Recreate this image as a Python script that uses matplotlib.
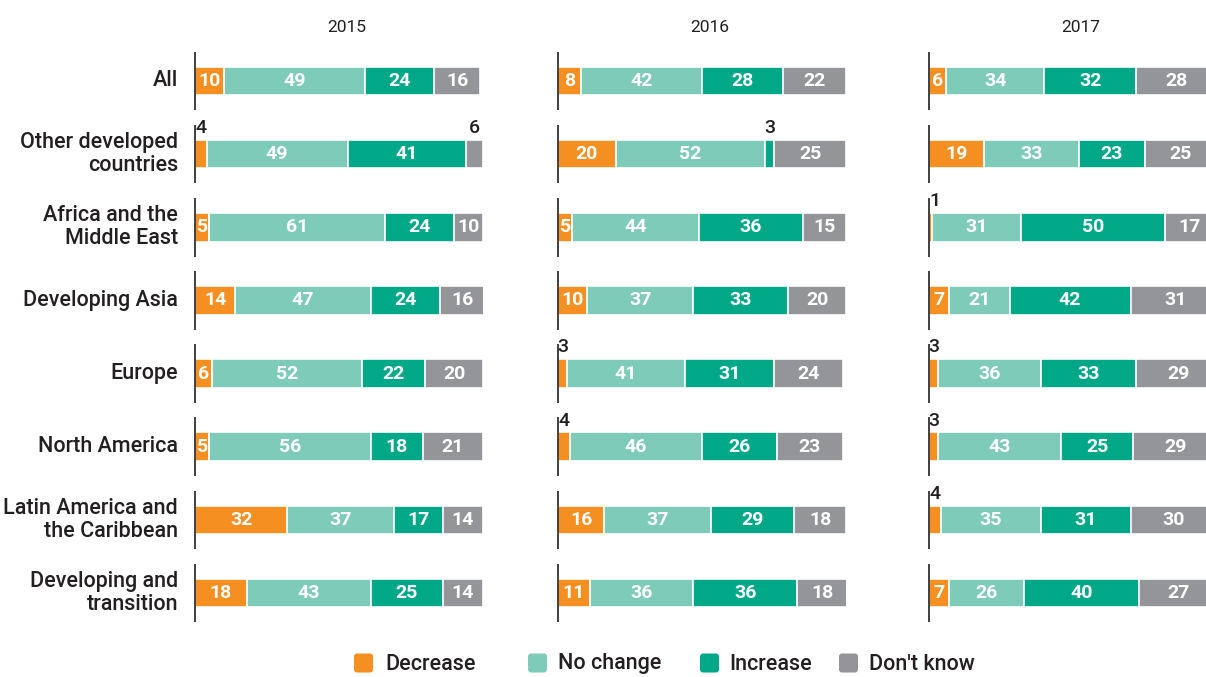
import numpy as np
import matplotlib
matplotlib.use("Agg")
import matplotlib.pyplot as plt
import matplotlib.patches as mpatches
from matplotlib import font_manager

# ---- data ----
CATEGORIES = ["All", "Other developed\ncountries", "Africa and the\nMiddle East",
              "Developing Asia", "Europe", "North America",
              "Latin America and\nthe Caribbean", "Developing and\ntransition"]
YEARS = ["2015", "2016", "2017"]
SERIES = ["Decrease", "No change", "Increase", "Don't know"]

# rows: categories, cols: Decrease, No change, Increase, Don't know
V2015 = [[10, 49, 24, 16], [4, 49, 41, 6], [5, 61, 24, 10], [14, 47, 24, 16],
         [6, 52, 22, 20], [5, 56, 18, 21], [32, 37, 17, 14], [18, 43, 25, 14]]
V2016 = [[8, 42, 28, 22], [20, 52, 3, 25], [5, 44, 36, 15], [10, 37, 33, 20],
         [3, 41, 31, 24], [4, 46, 26, 23], [16, 37, 29, 18], [11, 36, 36, 18]]
V2017 = [[6, 34, 32, 28], [19, 33, 23, 25], [1, 31, 50, 17], [7, 21, 42, 31],
         [3, 36, 33, 29], [3, 43, 25, 29], [4, 35, 31, 30], [7, 26, 40, 27]]
PANELS = [V2015, V2016, V2017]

# labels drawn above the bar instead of inside (panel, row, segment)
OUTSIDE = {(0, 1, 0), (0, 1, 3), (1, 1, 2), (1, 4, 0), (1, 5, 0),
           (2, 2, 0), (2, 4, 0), (2, 5, 0), (2, 6, 0)}

COLORS = ["#F58F21", "#7FCBB9", "#00A887", "#939598"]
DARK = "#231F20"

names = {f.name for f in font_manager.fontManager.ttflist}
FONT = "Liberation Sans Narrow" if "Liberation Sans Narrow" in names else "Roboto"
plt.rcParams["font.family"] = [FONT, "DejaVu Sans"]

W, H = 1206, 677
fig = plt.figure(figsize=(W / 100, H / 100), dpi=100)

lefts_px = [195, 558, 929]
width_px = 288
row_px = 73.14
top_row_px = 81
bot = 1 - (top_row_px + 7.5 * row_px) / H
hgt = 8 * row_px / H
bar_h = 0.39

for p, (vals, lx) in enumerate(zip(PANELS, lefts_px)):
    ax = fig.add_axes([lx / W, bot, width_px / W, hgt])
    ax.set_xlim(0, 100)
    ax.set_ylim(7.5, -0.5)
    ax.axis("off")
    arr = np.array(vals)
    for i in range(len(CATEGORIES)):
        left = 0
        for s in range(len(SERIES)):
            v = arr[i, s]
            ax.barh(i, v, left=left, height=bar_h, color=COLORS[s],
                    edgecolor="white", linewidth=1.2)
            if (p, i, s) in OUTSIDE:
                x = left + v / 2 if v > 2 else left
                ax.text(x, i - bar_h / 2 - 0.04, str(v), ha="center" if v > 2 else "left",
                        va="bottom", color=DARK, fontsize=14, fontweight="medium",
                        clip_on=False)
            else:
                ax.text(left + v / 2, i, str(v), ha="center", va="center",
                        color="white", fontsize=14, fontweight="bold")
            left += v
        ax.plot([0, 0], [i - 0.4, i + 0.4], color=DARK, lw=1.2, clip_on=False,
                solid_capstyle="butt")
    fig.text((lx + width_px / 2 + 8) / W, 1 - 28 / H, YEARS[p],
             ha="center", va="center", fontsize=12.5, color=DARK)
    if p == 0:
        for i, c in enumerate(CATEGORIES):
            ax.text(-17 / (width_px / 100), i, c, ha="right", va="center",
                    fontsize=15.5, fontweight="medium", color=DARK,
                    linespacing=1.12, clip_on=False)

# legend (manual, positioned like the original)
leg_sq = [354, 528, 700, 839]
leg_tx = [385, 558, 729, 869]
leg_y = 663
sq = 19
for s, (qx, tx) in enumerate(zip(leg_sq, leg_tx)):
    patch = mpatches.FancyBboxPatch((qx / 100, (H - leg_y - sq / 2) / 100), sq / 100, sq / 100,
                                    boxstyle="round,pad=0,rounding_size=0.03",
                                    transform=fig.dpi_scale_trans, color=COLORS[s], lw=0)
    fig.add_artist(patch)
    fig.text(tx / W, 1 - (leg_y + 1) / H, SERIES[s], ha="left", va="center",
             fontsize=15.5, fontweight="medium", color=DARK)

fig.savefig("out.png", dpi=100)
